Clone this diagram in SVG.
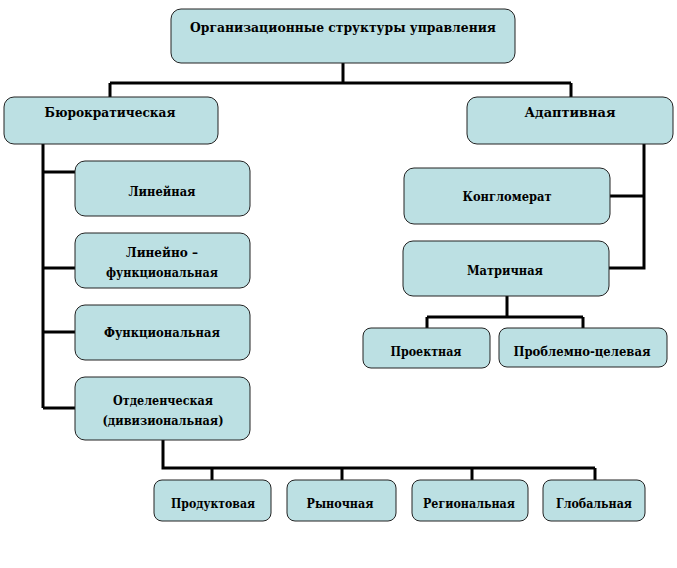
<svg xmlns="http://www.w3.org/2000/svg" width="677" height="568" viewBox="0 0 677 568">
<style>
.box{fill:#BCE0E3;stroke:#222;stroke-width:1}
.t{font-family:'DejaVu Serif','Liberation Serif',serif;font-weight:bold;font-size:13px;fill:#000;text-anchor:middle}
.c{fill:none;stroke:#000;stroke-width:3}
</style>
<rect width="677" height="568" fill="#fff"/>
<g id="connectors">
<path class="c" d="M343 63V83M110 83H571M110 83V97M571 83V97"/>
<path class="c" d="M43 144V408M43 172H75M43 268H75M43 332H75M43 408H75"/>
<path class="c" d="M163 440V468H595M212 468V480M342 468V480M472 468V480M595 468V480"/>
<path class="c" d="M644 144V268H609M644 196H610"/>
<path class="c" d="M507 296V317M427 317H583M427 317V328M583 317V328"/>
</g>
<g id="root"><rect class="box" x="171" y="9" width="344" height="54" rx="10"/><text class="t" x="343" y="32" textLength="306" lengthAdjust="spacingAndGlyphs">Организационные структуры управления</text></g>
<g id="bureau"><rect class="box" x="4" y="97" width="214" height="47" rx="10"/><text class="t" x="110" y="117" textLength="131" lengthAdjust="spacingAndGlyphs">Бюрократическая</text></g>
<g id="adaptive"><rect class="box" x="467" y="97" width="206" height="47" rx="10"/><text class="t" x="570" y="117" textLength="91" lengthAdjust="spacingAndGlyphs">Адаптивная</text></g>
<g id="linear"><rect class="box" x="75" y="161" width="175" height="55" rx="10"/><text class="t" x="162" y="196" textLength="67" lengthAdjust="spacingAndGlyphs">Линейная</text></g>
<g id="linfunc"><rect class="box" x="75" y="233" width="175" height="55" rx="10"/><text class="t" x="162" y="257" textLength="72" lengthAdjust="spacingAndGlyphs">Линейно –</text><text class="t" x="162" y="277" textLength="112" lengthAdjust="spacingAndGlyphs">функциональная</text></g>
<g id="func"><rect class="box" x="75" y="305" width="175" height="55" rx="10"/><text class="t" x="162" y="337" textLength="116" lengthAdjust="spacingAndGlyphs">Функциональная</text></g>
<g id="division"><rect class="box" x="75" y="377" width="175" height="63" rx="10"/><text class="t" x="163" y="405" textLength="100" lengthAdjust="spacingAndGlyphs">Отделенческая</text><text class="t" x="163" y="425" textLength="121" lengthAdjust="spacingAndGlyphs">(дивизиональная)</text></g>
<g id="conglomerate"><rect class="box" x="404" y="168" width="206" height="56" rx="10"/><text class="t" x="507" y="201" textLength="89" lengthAdjust="spacingAndGlyphs">Конгломерат</text></g>
<g id="matrix"><rect class="box" x="403" y="241" width="206" height="55" rx="10"/><text class="t" x="505" y="275" textLength="76" lengthAdjust="spacingAndGlyphs">Матричная</text></g>
<g id="project"><rect class="box" x="363" y="328" width="127" height="40" rx="8"/><text class="t" x="426" y="356" textLength="71" lengthAdjust="spacingAndGlyphs">Проектная</text></g>
<g id="problem"><rect class="box" x="499" y="328" width="168" height="39" rx="8"/><text class="t" x="582" y="356" textLength="137" lengthAdjust="spacingAndGlyphs">Проблемно-целевая</text></g>
<g id="product"><rect class="box" x="154" y="480" width="117" height="41" rx="8"/><text class="t" x="213" y="508" textLength="84" lengthAdjust="spacingAndGlyphs">Продуктовая</text></g>
<g id="market"><rect class="box" x="287" y="480" width="109" height="41" rx="8"/><text class="t" x="340" y="508" textLength="67" lengthAdjust="spacingAndGlyphs">Рыночная</text></g>
<g id="regional"><rect class="box" x="412" y="480" width="116" height="41" rx="8"/><text class="t" x="469" y="508" textLength="92" lengthAdjust="spacingAndGlyphs">Региональная</text></g>
<g id="global"><rect class="box" x="543" y="480" width="102" height="41" rx="8"/><text class="t" x="594" y="508" textLength="76" lengthAdjust="spacingAndGlyphs">Глобальная</text></g>
</svg>
